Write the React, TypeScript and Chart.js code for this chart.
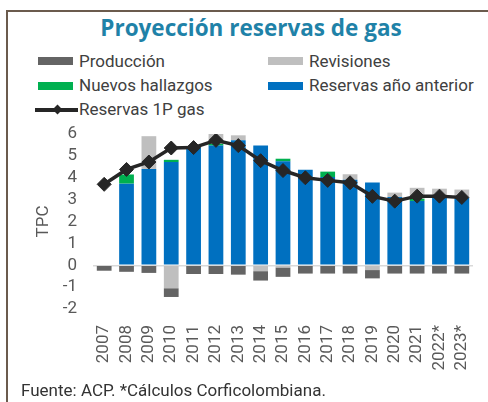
import React, { useEffect, useRef } from 'react';
import { Chart, registerables } from 'chart.js';

Chart.register(...registerables);

const years = ['2007', '2008', '2009', '2010', '2011', '2012', '2013', '2014', '2015', '2016', '2017', '2018', '2019', '2020', '2021', '2022*', '2023*'];
const reservasAnterior = [0, 3.73, 4.4, 4.72, 5.37, 5.47, 5.72, 5.48, 4.75, 4.37, 4.03, 3.91, 3.78, 3.12, 2.94, 3.12, 3.09];
const nuevosHallazgos = [0, 0.42, 0, 0.1, 0, 0.08, 0, 0, 0.12, 0, 0.25, 0, 0, 0, 0.1, 0, 0];
const revisiones = [0, 0, 1.5, -1.05, 0, 0.7, 0.22, -0.27, -0.1, 0, 0, 0.25, -0.22, 0.2, 0.5, 0.38, 0.37];
const produccion = [-0.25, -0.3, -0.35, -0.4, -0.4, -0.4, -0.43, -0.43, -0.43, -0.38, -0.38, -0.38, -0.38, -0.38, -0.38, -0.38, -0.38];
const reservas1P = [3.7, 4.38, 4.72, 5.36, 5.38, 5.71, 5.47, 4.78, 4.33, 4.0, 3.88, 3.77, 3.15, 2.93, 3.16, 3.16, 3.1];
const yTicks = [-2, 6];

const BLUE = '#0070C0';
const GREEN = '#00B050';
const LIGHT = '#BFBFBF';
const DARK = '#646464';
const LINE = '#262626';
const TICK = '#595959';
const FONT = 'Roboto';

export default function App() {
  const ref = useRef<HTMLCanvasElement>(null);

  useEffect(() => {
    const bar = { type: 'bar' as const, stack: 'bars', order: 2, categoryPercentage: 1, barPercentage: 0.66, borderWidth: 0 };
    const chart = new Chart(ref.current!, {
      type: 'bar',
      data: {
        labels: years,
        datasets: [
          {
            type: 'line',
            label: 'Reservas 1P gas',
            data: reservas1P,
            stack: 'line',
            order: 0,
            borderColor: LINE,
            backgroundColor: LINE,
            borderWidth: 3.5,
            pointStyle: 'rectRot',
            pointRadius: 7,
            pointBorderWidth: 1,
            pointBackgroundColor: LINE,
            pointBorderColor: LINE,
            tension: 0,
          } as any,
          { ...bar, label: 'Reservas año anterior', data: reservasAnterior, backgroundColor: BLUE },
          { ...bar, label: 'Nuevos hallazgos', data: nuevosHallazgos, backgroundColor: GREEN },
          { ...bar, label: 'Revisiones', data: revisiones, backgroundColor: LIGHT },
          { ...bar, label: 'Producción', data: produccion, backgroundColor: DARK },
        ],
      },
      options: {
        responsive: false,
        animation: false,
        devicePixelRatio: 1,
        layout: { padding: { left: 30, right: 15, top: 14, bottom: 0 } },
        plugins: { legend: { display: false }, tooltip: { enabled: false }, title: { display: false } },
        scales: {
          x: {
            stacked: true,
            grid: { display: false },
            border: { display: false },
            ticks: {
              color: TICK,
              font: { family: FONT, size: 17 },
              minRotation: 90,
              maxRotation: 90,
              autoSkip: false,
              padding: 8,
            },
            afterFit: (s: any) => { s.height = 81; s.paddingLeft = 0; s.paddingRight = 0; },
          },
          y: {
            stacked: true,
            min: yTicks[0],
            max: yTicks[1],
            grid: {
              drawTicks: false,
              lineWidth: 1.5,
              color: (c: any) => (c.tick && c.tick.value === 0 ? '#D9D9D9' : 'rgba(0,0,0,0)'),
            },
            border: { display: false },
            ticks: { stepSize: 1, autoSkip: false, color: TICK, font: { family: FONT, size: 17 }, padding: 16 },
            title: { display: true, text: 'TPC', color: TICK, font: { family: FONT, size: 17 }, padding: { top: 4, bottom: 4 } },
            afterFit: (s: any) => { s.width = 63; s.paddingTop = 0; s.paddingBottom = 0; },
          },
        },
      },
    });
    return () => chart.destroy();
  }, []);

  const textStyle = (left: number, top: number): React.CSSProperties => ({
    position: 'absolute', left, top, fontSize: 17, lineHeight: '20px', color: '#404040', whiteSpace: 'nowrap', fontFamily: FONT,
  });
  const swatch = (left: number, center: number, color: string): React.CSSProperties => ({
    position: 'absolute', left, top: center - 4, width: 35, height: 8, background: color,
  });

  return (
    <div style={{ position: 'fixed', left: 0, top: 0, width: 488, height: 402, overflow: 'hidden', background: '#fff', fontFamily: FONT }}>
      <div style={{ position: 'absolute', left: 6, top: 10, width: 520, height: 440, border: '2px solid #6b5b4d', boxSizing: 'border-box' }} />
      <div style={{ position: 'absolute', left: 0, top: 15, width: 502, textAlign: 'center', fontFamily: 'Open Sans', fontWeight: 700, fontSize: 22.5, lineHeight: '26px', color: '#1F82A8', whiteSpace: 'nowrap' }}>
        Proyección reservas de gas
      </div>
      <div style={swatch(38, 61, DARK)} />
      <div style={textStyle(79, 51)}>Producción</div>
      <div style={swatch(268, 61, LIGHT)} />
      <div style={textStyle(309, 51)}>Revisiones</div>
      <div style={swatch(38, 86, GREEN)} />
      <div style={textStyle(79, 75)}>Nuevos hallazgos</div>
      <div style={swatch(268, 86, BLUE)} />
      <div style={textStyle(309, 75)}>Reservas año anterior</div>
      <div style={{ position: 'absolute', left: 35, top: 108, width: 43, height: 3.5, background: LINE }} />
      <div style={{ position: 'absolute', left: 54, top: 106, width: 7, height: 7, background: LINE, transform: 'rotate(45deg)' }} />
      <div style={textStyle(79, 99)}>Reservas 1P gas</div>
      <canvas ref={ref} width={488} height={270} style={{ position: 'absolute', left: 0, top: 120, width: 488, height: 270 }} />
      <div style={{ ...textStyle(21, 380), color: '#333333' }}>Fuente: ACP. *Cálculos Corficolombiana.</div>
    </div>
  );
}
